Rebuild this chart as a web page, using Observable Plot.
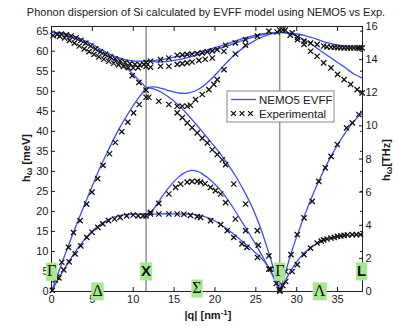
<!DOCTYPE html>
<html><head><meta charset="utf-8">
<script src="https://cdn.jsdelivr.net/npm/d3@7"></script>
<script src="https://cdn.jsdelivr.net/npm/@observablehq/plot@0.6"></script>
<style>
body{margin:0;background:#fff;}
#wrap{position:relative;width:399px;height:326px;}
</style></head><body><div id="wrap"></div>
<script>
// ---------- constants / ticks ----------
const MEV_PER_THZ = 4.1357;
const qX = 11.57, qG2 = 27.93, qL = 38.05;
const xTicks = [0, 5, 10, 15, 20, 25, 30, 35];
const meVTicks = [0, 5, 10, 15, 20, 25, 30, 35, 40, 45, 50, 55, 60, 65];
const thzTicks = [0, 2, 4, 6, 8, 10, 12, 14, 16];

// ---------- NEMO5 EVFF (theory) branches: [q (nm^-1), E (meV)] ----------
const thTA_GX = [[0,0],[1,3.7],[2,7.1],[3,10.2],[4,12.9],[5,15.1],[6,16.8],[7,18.0],[8,18.8],[9,19.2],[10,19.3],[11.57,19.3]];
const thLA_GX = [[0,0],[1,5.6],[2,11.1],[3,16.4],[4,21.5],[5,26.4],[6,31.2],[7,35.5],[8,39.6],[9,43.2],[10,46.4],[11,49.3],[11.57,50.9]];
const thTO_GX = [[0,64.7],[1,64.6],[2,64.2],[3,63.6],[4,62.7],[5,61.7],[6,60.5],[7,59.4],[8,58.5],[9,57.9],[10,57.6],[11.57,57.5]];
const thLO_GX = [[0,64.7],[1,64.5],[2,63.9],[3,63.1],[4,62.1],[5,60.9],[6,59.7],[7,58.6],[8,57.5],[9,56.1],[10,54.2],[11,52.1],[11.57,50.9]];

const thTA1_S = [[11.57,19.3],[13,19.4],[15,19.4],[17,19.3],[18,19.0],[19,18.5],[20,17.6],[21,16.3],[22,14.8],[23,13.1],[24,11.4],[25,9.6],[26,7.6],[27,4.5],[27.93,0]];
const thTA2_S = [[11.57,19.3],[12,19.5],[12.5,20.6],[13,22.1],[13.5,23.6],[14,25.0],[14.5,26.3],[15,27.5],[15.5,28.5],[16,29.3],[16.5,29.9],[17,30.2],[17.5,30.2],[18,29.9],[18.5,29.3],[19,28.6],[20,26.8],[21,24.5],[22,21.6],[23,18.4],[24,15.1],[25,11.7],[26,8.1],[27,4.2],[27.93,0]];
const thLA_S = [[11.57,50.9],[12.5,50.6],[13.5,49.7],[14.5,48.3],[15.5,46.6],[16.5,44.5],[17.5,42.2],[18.5,39.8],[19.5,37.3],[20.5,34.8],[21.5,32.0],[22.5,28.9],[23.5,25.3],[24.5,21.3],[25.5,16.3],[26.5,10.2],[27.2,5.5],[27.93,0]];
const thLO_S = [[11.57,50.9],[12.5,51.1],[13.5,50.7],[14.5,50.1],[15.5,49.6],[16.5,49.5],[17.5,50.0],[18.5,51.2],[19.5,53.0],[20.5,55.1],[21.5,57.3],[22.5,59.3],[23.5,60.9],[24.5,62.2],[25.5,63.3],[26.5,64.1],[27.93,64.7]];
const thTO1_S = [[11.57,57.5],[13,57.8],[14,58.1],[15,58.5],[16,58.9],[17,59.3],[18,59.8],[19,60.3],[20,60.9],[21,61.5],[22,62.2],[23,62.9],[24,63.5],[25,64.0],[26,64.4],[27,64.6],[27.93,64.7]];
const thTO2_S = [[11.57,57.5],[13,57.3],[14,57.4],[15,57.7],[16,58.1],[17,58.6],[18,59.2],[19,59.8],[20,60.4],[21,61.0],[22,61.7],[23,62.4],[24,63.1],[25,63.7],[26,64.2],[27,64.5],[27.93,64.7]];

const thTA_GL = [[27.93,0],[28.5,2.3],[29,4.2],[29.5,5.9],[30,7.4],[30.5,8.7],[31,9.8],[31.5,10.7],[32,11.4],[32.5,12.0],[33,12.5],[34,13.2],[35,13.7],[36,13.95],[37,14.1],[38.05,14.2]];
const thLA_GL = [[27.93,0],[28.5,3.9],[29,7.4],[29.5,10.7],[30,13.7],[30.5,16.5],[31,19.2],[31.5,21.8],[32,24.3],[33,28.9],[34,33.0],[35,36.6],[36,39.8],[37,42.5],[38.05,44.6]];
const thLO_GL = [[27.93,64.7],[29,64.4],[30,63.8],[31,62.8],[32,61.5],[33,60.0],[34,58.6],[35,57.2],[36,55.8],[37,54.3],[38.05,53.3]];
const thTO_GL = [[27.93,64.7],[29,64.6],[30,64.3],[31,63.9],[32,63.3],[33,62.6],[34,62.0],[35,61.5],[36,61.2],[37,61.0],[38.05,61.0]];

// ---------- Experimental points: [q, E] ----------
const exGX_TA = [[0.1,0.3],[0.45,2.9],[0.9,3.4],[1.5,5.4],[2.16,7.4],[2.9,9.4],[3.59,11.4],[4.32,13.5],[4.95,14.8],[5.67,16.0],[6.28,16.9],[6.98,17.7],[7.71,18.1],[8.4,18.5],[9.2,18.9],[10.0,19.1],[10.6,18.9],[11.2,18.9],[11.57,18.9]];
const exGX_LA = [[0.65,3.6],[1.26,7.3],[2.08,11.0],[2.69,14.7],[3.5,17.7],[4.3,21.8],[4.95,24.8],[5.65,28.2],[6.3,31.5],[7.1,34.4],[7.8,37.2],[8.6,39.9],[9.34,42.3],[10.04,44.6],[10.73,46.7],[11.57,48.5],[11.57,50.3]];
const exGX_TO = [[0.2,63.9],[0.7,64.2],[1.2,64.3],[1.8,64.1],[2.4,63.8],[3.0,63.3],[3.6,62.7],[4.2,62.0],[4.8,61.3],[5.4,60.6],[6.0,59.9],[6.6,59.2],[7.2,58.6],[7.8,58.1],[8.4,57.6],[9.0,57.2],[9.6,56.9],[10.2,56.7],[10.8,56.6],[11.3,56.7],[11.57,57.2]];
const exGX_LO = [[1.0,63.7],[1.6,63.3],[2.2,62.7],[2.8,62.0],[3.4,61.3],[4.0,60.6],[4.6,59.9],[5.2,59.2],[5.8,58.6],[6.4,58.0],[7.0,57.5],[7.6,57.0],[8.2,56.6],[8.8,56.2],[9.4,55.9],[10.0,55.8],[10.6,55.9],[11.57,56.2],[9.88,53.9],[10.7,52.2]];

const exS_TO1 = [[12.12,57.5],[13.34,57.9],[14.36,58.3],[15.38,59.0],[16.0,59.1],[16.6,59.2],[17.2,59.3],[17.83,59.4],[18.44,59.6],[19.06,59.85],[19.67,60.1],[20.28,60.4],[21.3,61.5],[22.5,62.1],[23.73,62.9],[25.2,63.75],[26.6,65.0],[27.6,64.8]];
const exS_TO2 = [[12.12,56.0],[13.34,56.25],[14.36,56.25],[15.38,56.7],[16.0,56.9],[16.6,57.1],[17.2,57.3],[18.03,57.7],[18.8,58.0],[19.67,58.3],[21.1,60.0]];
const exS_LO = [[15.38,46.25],[16.0,46.25],[16.6,46.25],[17.0,46.5],[17.63,47.9],[18.44,49.2],[19.26,50.4],[19.87,51.7],[20.28,52.9],[21.1,55.4],[22.5,59.3],[23.73,61.5]];
const exS_LA = [[11.9,48.5],[13.13,47.5],[14.36,46.7],[15.38,44.6],[16.0,43.4],[16.6,42.1],[17.2,40.9],[17.83,39.6],[18.44,38.3],[19.06,37.1],[19.67,35.4],[20.28,34.2],[20.9,32.9],[21.3,31.7],[22.3,26.85],[23.75,21.85],[25.18,15.2],[26.6,8.9]];
const exS_TA2 = [[12.1,19.75],[13.13,22.0],[14.36,24.35],[15.18,26.0],[15.8,26.85],[16.6,27.3],[17.2,27.5],[17.83,27.5],[18.24,27.3],[18.8,26.9],[19.46,26.0],[20.07,25.2],[20.7,24.35],[21.3,22.2],[22.5,18.1],[23.75,15.2],[25.3,11.6],[26.8,5.6]];
const exS_TA1 = [[12.1,19.35],[13.13,19.35],[14.36,19.35],[15.38,19.35],[16.2,19.3],[17.0,19.0],[17.83,18.7],[18.24,18.5],[19.46,17.7],[20.7,16.7],[21.5,15.2],[22.3,13.5],[23.3,11.9],[23.9,11.0],[25.2,8.5],[26.6,5.6],[27.5,2.0],[27.85,0.5],[27.93,0.1],[28.0,0.4]];

const exGL_TO = [[27.93,65.3],[28.6,65.25],[29.45,64.6],[30.1,63.5],[30.9,62.5],[31.7,62.0],[32.5,61.7],[33.3,61.3],[33.7,61.1],[34.2,61.0],[34.6,61.0],[35.0,60.9],[35.4,60.9],[35.8,60.85],[36.2,60.85],[36.6,60.85],[37.0,60.85],[37.4,60.85],[37.7,60.85],[38.0,60.85]];
const exGL_LO = [[28.3,65.3],[29.2,64.0],[30.1,62.9],[30.9,61.7],[31.7,60.0],[32.5,58.75],[33.3,57.1],[34.2,55.85],[35.0,54.2],[35.8,52.9],[36.6,51.7],[37.4,50.4],[38.0,49.6]];
const exGL_LA = [[28.65,5.0],[29.3,9.2],[30.07,14.2],[30.9,18.4],[31.9,22.5],[32.7,27.5],[33.5,30.85],[34.2,33.75],[34.97,36.7],[36.1,40.85],[36.8,42.1],[37.6,44.2]];
const exGL_TA = [[28.3,1.5],[28.65,2.5],[29.45,5.0],[30.07,6.7],[30.9,9.2],[31.7,10.85],[32.5,12.1],[33.0,12.6],[33.3,12.9],[33.7,13.1],[34.2,13.35],[34.6,13.5],[35.0,13.75],[35.4,13.9],[35.8,14.0],[36.2,14.1],[36.8,14.2],[37.3,14.2],[37.8,14.2]];

// ---------- high-symmetry point labels ----------
const symLabels = ["Γ", "Δ", "X", "Σ", "Γ", "Λ", "L"];
const symQ = [0, 5.63, qX, 17.8, qG2, 32.8, 37.95];
const symE = [5.1, 0.2, 5.1, 0.9, 5.1, 0.2, 5.1];
const symSerif = [true, true, false, true, true, true, false];

// ---------- build tables ----------
const theoryList = {thTA_GX, thLA_GX, thTO_GX, thLO_GX, thTA1_S, thTA2_S, thLA_S, thLO_S, thTO1_S, thTO2_S, thTA_GL, thLA_GL, thLO_GL, thTO_GL};
const theory = Object.entries(theoryList).flatMap(([b, pts]) => pts.map(([q, E]) => ({b, q, E})));
const expt = [exGX_TA, exGX_LA, exGX_TO, exGX_LO, exS_TO1, exS_TO2, exS_LO, exS_LA, exS_TA2, exS_TA1, exGL_TO, exGL_LO, exGL_LA, exGL_TA]
  .flat().map(([q, E]) => ({q, E}));
const syms = symLabels.map((t, i) => ({t, q: symQ[i], E: symE[i], serif: symSerif[i]}));

const BLUE = "#3f4fe6";
const FONT = "'Liberation Sans', Arial, Helvetica, sans-serif";

const chart = Plot.plot({
  width: 399, height: 326,
  marginLeft: 51, marginRight: 37, marginTop: 26, marginBottom: 35,
  x: {domain: [0, qL]},
  y: {domain: [0, 16 * MEV_PER_THZ]},
  style: {fontFamily: FONT, fontSize: "11px", color: "#1a1a1a", background: "white"},
  marks: [
    Plot.ruleX([qX, qG2], {stroke: "#6a6a6a", strokeWidth: 1.1}),
    Plot.line(theory, {x: "q", y: "E", z: "b", stroke: BLUE, strokeWidth: 1.3, curve: "catmull-rom"}),
    Plot.dot(expt, {x: "q", y: "E", symbol: "times", r: 2.5, stroke: "#111", strokeWidth: 1.3}),
    Plot.frame({stroke: "#222", strokeWidth: 1}),
    Plot.axisX({ticks: xTicks, tickSize: -4, tickPadding: 8, label: null}),
    Plot.axisX({anchor: "top", ticks: xTicks, tickSize: -4, tickFormat: () => "", label: null}),
    Plot.axisY({ticks: meVTicks, tickSize: -4, tickPadding: 7, label: null}),
    Plot.axisY({anchor: "right", ticks: meVTicks, tickSize: -3, tickFormat: () => "", label: null}),
    Plot.axisY({anchor: "right", ticks: thzTicks.map(t => t * MEV_PER_THZ), tickFormat: d => String(Math.round(d / MEV_PER_THZ)), tickSize: -4, tickPadding: 7, label: null}),
    Plot.text(syms.filter(d => d.serif), {x: "q", y: "E", text: "t", fontFamily: "'Liberation Serif', 'Times New Roman', serif", fontSize: 16, fill: "#111", className: "symlab"}),
    Plot.text(syms.filter(d => !d.serif), {x: "q", y: "E", text: "t", fontFamily: FONT, fontWeight: "bold", fontSize: 15, fill: "#111", className: "symlab"})
  ]
});

document.getElementById("wrap").appendChild(chart);
const svg = d3.select(chart);

// green boxes behind point labels (same transform as the text)
svg.selectAll("g.symlab text").each(function() {
  const bb = this.getBBox();
  const tf = this.getAttribute("transform");
  const r = d3.select(this.parentNode).insert("rect", () => this)
    .attr("x", bb.x - 1).attr("y", bb.y + 0.5).attr("width", bb.width + 2).attr("height", bb.height + 1)
    .attr("fill", "#a6e98c");
  if (tf) r.attr("transform", tf);
});

// title
svg.append("text").attr("x", 206).attr("y", 16).attr("text-anchor", "middle")
  .attr("font-family", FONT).attr("font-size", 11).attr("fill", "#1a1a1a")
  .text("Phonon dispersion of Si calculated by EVFF model using NEMO5 vs Exp.");

// left axis label
const yl = svg.append("text").attr("transform", "translate(30,158) rotate(-90)").attr("text-anchor", "middle")
  .attr("font-family", FONT).attr("font-size", 11).attr("font-weight", "bold").attr("fill", "#1a1a1a");
yl.append("tspan").text("h");
yl.append("tspan").attr("font-size", 9).attr("dy", 2).text("ω");
yl.append("tspan").attr("dy", -2).text(" [meV]");

// right axis label
const yr = svg.append("text").attr("transform", "translate(390,160) rotate(-90)").attr("text-anchor", "middle")
  .attr("font-family", FONT).attr("font-size", 11).attr("font-weight", "bold").attr("fill", "#1a1a1a");
yr.append("tspan").text("h");
yr.append("tspan").attr("font-size", 9).attr("dy", 2).text("ω");
yr.append("tspan").attr("dy", -2).text("[THz]");

// x axis label
const xl = svg.append("text").attr("x", 208).attr("y", 319).attr("text-anchor", "middle")
  .attr("font-family", FONT).attr("font-size", 11).attr("font-weight", "bold").attr("fill", "#1a1a1a");
xl.append("tspan").text("|q| [nm");
xl.append("tspan").attr("font-size", 8).attr("dy", -4).text("-1");
xl.append("tspan").attr("dy", 4).text("]");

// legend
const lg = svg.append("g").attr("font-family", FONT).attr("font-size", 11.5).attr("fill", "#1a1a1a").attr("text-anchor", "start");
lg.append("rect").attr("x", 227).attr("y", 91).attr("width", 107).attr("height", 31)
  .attr("fill", "white").attr("stroke", "#888").attr("stroke-width", 1);
lg.append("line").attr("x1", 231).attr("x2", 256).attr("y1", 99.5).attr("y2", 99.5).attr("stroke", BLUE).attr("stroke-width", 1.3);
lg.append("text").attr("x", 259).attr("y", 103.5).attr("text-anchor", "start").text("NEMO5 EVFF");
[233.5, 242, 250.5].forEach(cx => {
  lg.append("path").attr("d", `M${cx-2.4},${113.5-2.4}L${cx+2.4},${113.5+2.4}M${cx-2.4},${113.5+2.4}L${cx+2.4},${113.5-2.4}`)
    .attr("stroke", "#111").attr("stroke-width", 1.3);
});
lg.append("text").attr("x", 259).attr("y", 117.5).attr("text-anchor", "start").text("Experimental");
</script></body></html>
